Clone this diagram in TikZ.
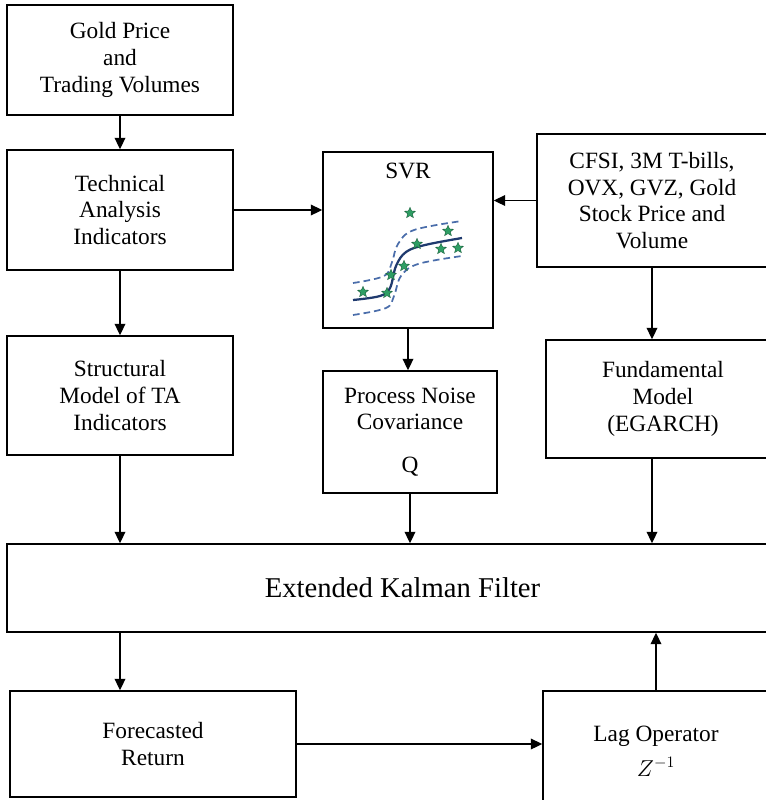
\documentclass[tikz,border=0pt]{standalone}
\usepackage{fontspec}
\setmainfont{Liberation Serif}
\usepackage{tikz}
\usetikzlibrary{positioning,calc,arrows.meta,shapes.geometric}
\definecolor{svrnavy}{HTML}{1F3A6E}
\definecolor{svrblue}{HTML}{4A6DAA}
\definecolor{svrgreen}{HTML}{2E9E64}

\tikzset{
	box/.style={draw, line width=1.2pt, align=center, inner sep=0pt, font=\fontsize{17.5}{20}\selectfont},
	boxtitle/.style={align=center, inner sep=0pt, font=\fontsize{17.5}{20}\selectfont},
	arr/.style={-{Triangle[length=8.5pt,width=8pt]}, line width=1pt},
	svrstar/.style={star, star points=5, star point ratio=2.2, fill=svrgreen, draw=svrgreen!60!black, line width=0.3pt, minimum size=8.5pt, inner sep=0pt}
}

\begin{document}
\begin{tikzpicture}[x=0.75pt,y=-0.75pt]
	\useasboundingbox (0,0) rectangle (766,800);
	\clip (0,0) rectangle (766,800);
	\node[box, minimum width=169.5pt, minimum height=82.5pt] (gold) at (120,60) {Gold Price\\and\\Trading Volumes};
	\node[box, minimum width=169.5pt, minimum height=90pt] (tech) at (120,210) {Technical\\Analysis\\Indicators};
	\node[box, minimum width=169.5pt, minimum height=89.25pt] (struct) at (120,395.5) {Structural\\Model of TA\\Indicators};
	\node[box, minimum width=127.5pt, minimum height=132pt] (svr) at (408,240) {};
	\node[boxtitle, below=9pt of svr.north] (svrtitle) {SVR};
	\node[box, minimum width=130.5pt, minimum height=91.5pt] (noise) at (410,432) {Process Noise\\Covariance\\[12pt]Q};
	\node[box, minimum width=172.5pt, minimum height=99.75pt] (cfsi) at (652,200.5) {CFSI, 3M T-bills,\\OVX, GVZ, Gold\\Stock Price and\\Volume};
	\node[box, minimum width=175.5pt, minimum height=88.5pt] (fund) at (663,399) {Fundamental\\Model\\(EGARCH)};
	\node[box, minimum width=593.25pt, minimum height=66pt, font=\fontsize{21.5}{24}\selectfont] (ekf) at (402.5,588) {Extended Kalman Filter};
	\node[box, minimum width=214.5pt, minimum height=79.5pt] (forecast) at (153,744) {Forecasted\\Return};
	\node[box, minimum width=169.5pt, minimum height=90pt] (lag) at (656,751) {Lag Operator\\[6pt]$Z^{-1}$};
	% SVR sketch
	\draw[svrblue, line width=1.3pt, dash pattern=on 5pt off 3pt] plot[smooth, tension=0.6] coordinates {(353,283) (384,276) (392,262) (398,244) (414,230) (462,221)};
	\draw[svrblue, line width=1.3pt, dash pattern=on 5pt off 3pt] plot[smooth, tension=0.6] coordinates {(353,315) (386,308) (394,296) (401,276) (418,264) (462,256)};
	\draw[svrnavy, line width=1.7pt] plot[smooth, tension=0.6] coordinates {(353,300) (380,296) (390,288) (396,266) (406,252) (425,245) (462,238)};
	\foreach \px/\py [count=\k] in {410/213, 448/231, 417/244, 441/249, 458/248, 404/266, 391/275, 363/292, 387/293}
		\node[svrstar] (star\k) at (\px,\py) {};
	% connectors
	\draw[arr] (gold.south) -- (tech.north);
	\draw[arr] (tech.south) -- (struct.north);
	\draw[arr] (tech.east) -- (tech.east -| svr.west);
	\draw[arr] (cfsi.west) -- (cfsi.west -| svr.east);
	\draw[arr] (svr.south) -- (svr.south |- noise.north);
	\draw[arr] (cfsi.south) -- (cfsi.south |- fund.north);
	\draw[arr] (struct.south) -- (struct.south |- ekf.north);
	\draw[arr] (noise.south) -- (noise.south |- ekf.north);
	\draw[arr] (cfsi.south |- fund.south) -- (cfsi.south |- ekf.north);
	\draw[arr] (struct.south |- ekf.south) -- (struct.south |- forecast.north);
	\draw[arr] (forecast.east) -- (forecast.east -| lag.west);
	\draw[arr] (lag.north) -- (lag.north |- ekf.south);
\end{tikzpicture}
\end{document}
